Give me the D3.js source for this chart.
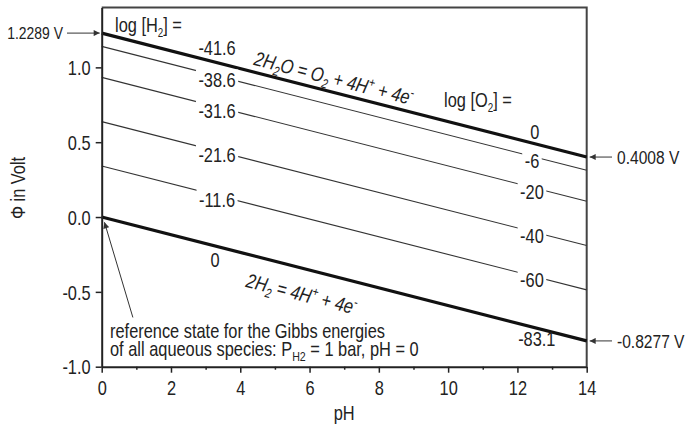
<!DOCTYPE html>
<html>
<head>
<meta charset="utf-8">
<script src="https://cdn.jsdelivr.net/npm/d3@7"></script>
<style>
  body { margin: 0; background: #fff; }
  svg { display: block; font-family: "Liberation Sans Narrow", "Liberation Sans", Arial, sans-serif; }
</style>
</head>
<body>
<svg id="chart" width="689" height="426"></svg>
<script>
// Stability field of water: electrode potential vs pH at 25 °C
const pHRange = [0, 14];
const logO2 = [0, -6, -20, -40, -60, -83.1];
const logH2Labels = ["-41.6", "-38.6", "-31.6", "-21.6", "-11.6", "0"];
const phiAtPH0 = [1.2289, 1.1402, 0.9331, 0.6373, 0.3415, 0.0];
const phiAtPH14 = [0.4008, 0.3121, 0.1050, -0.1908, -0.4866, -0.8277];
const xTicks = [0, 2, 4, 6, 8, 10, 12, 14];
const xMinorTicks = [1, 3, 5, 7, 9, 11, 13];
const yTicks = [-1.0, -0.5, 0.0, 0.5, 1.0];
const yDomain = [-1.0, 1.4];

const svg = d3.select("#chart");
const box = { left: 101.7, top: 7.5, right: 586.7, bottom: 366.7 };
const x = d3.scaleLinear().domain(pHRange).range([box.left, box.right]);
const y = d3.scaleLinear().domain(yDomain).range([box.bottom, box.top]);
const ink = "#222";
const FS = 20;
const SX = 0.82;            // condensed lettering
const hy = s => String(s).replace(/\u2212/g, "-");

// potential on line i at a given pH (straight line between its end points)
const phiAt = (i, p) => phiAtPH0[i] + (phiAtPH14[i] - phiAtPH0[i]) * (p - pHRange[0]) / (pHRange[1] - pHRange[0]);
const slopeDeg = i => Math.atan2(y(phiAtPH14[i]) - y(phiAtPH0[i]), x(pHRange[1]) - x(pHRange[0])) * 180 / Math.PI;

// condensed text placed at (px, py), optionally rotated
function ctext(px, py, anchor, rot, style, size) {
  const g = svg.append("g")
    .attr("transform", `translate(${px},${py})${rot ? ` rotate(${rot})` : ""} scale(${SX},1)`);
  const t = g.append("text").attr("x", 0).attr("y", 0)
    .attr("text-anchor", anchor || "start").attr("font-size", size || FS).attr("fill", ink);
  if (style) t.attr("font-style", style);
  return t;
}
function rich(sel, parts, small) {
  parts.forEach(pt => {
    const ts = sel.append("tspan").text(pt.t);
    if (pt.sub) ts.attr("font-size", small).attr("dy", 5);
    if (pt.sup) ts.attr("font-size", small).attr("dy", -8);
    if (pt.back) ts.attr("dy", pt.back);
  });
  return sel;
}

// arrow head marker
svg.append("defs").append("marker")
  .attr("id", "head").attr("viewBox", "0 0 10 10")
  .attr("refX", 10).attr("refY", 5)
  .attr("markerWidth", 8).attr("markerHeight", 6)
  .attr("markerUnits", "userSpaceOnUse")
  .attr("orient", "auto")
  .append("path").attr("d", "M0,0 L10,5 L0,10 Z").attr("fill", "#333");

// frame (top and right)
svg.append("path")
  .attr("d", `M${box.left},${box.top} H${box.right} V${box.bottom}`)
  .attr("fill", "none").attr("stroke", "#444").attr("stroke-width", 2);

// lines of constant gas activity
const last = logO2.length - 1;
const line = d3.line().x(d => x(d[0])).y(d => y(d[1]));
svg.append("g").selectAll("path")
  .data(logO2.map((v, i) => i))
  .join("path")
  .attr("d", i => line([[pHRange[0], phiAtPH0[i]], [pHRange[1], phiAtPH14[i]]]))
  .attr("fill", "none")
  .attr("stroke", i => (i === 0 || i === last) ? "#111" : "#333")
  .attr("stroke-width", i => (i === 0 || i === last) ? 3.2 : 1.1);

// axes
const xAxis = svg.append("g").attr("transform", `translate(0,${box.bottom})`)
  .call(d3.axisBottom(x).tickValues(xTicks).tickFormat(d => hy(d3.format("d")(d)))
    .tickSizeInner(6).tickSizeOuter(0).tickPadding(4));
svg.append("g").attr("transform", `translate(0,${box.bottom})`)
  .call(d3.axisBottom(x).tickValues(xMinorTicks).tickFormat("").tickSizeInner(3).tickSizeOuter(0))
  .call(g => g.select(".domain").remove());
const yAxis = svg.append("g").attr("transform", `translate(${box.left},0)`)
  .call(d3.axisLeft(y).tickValues(yTicks).tickFormat(d => hy(d3.format(".1f")(d)))
    .tickSizeInner(6).tickSizeOuter(0).tickPadding(5));
svg.selectAll("g[font-family]").attr("font-family", null);
svg.selectAll(".domain").attr("stroke", ink).attr("stroke-width", 2);
svg.selectAll(".tick line").attr("stroke", ink).attr("stroke-width", 1.5);
svg.selectAll(".tick text").attr("font-size", FS).attr("fill", ink);
yAxis.selectAll(".tick text").attr("dy", "0.36em").attr("x", -13.5).attr("transform", `scale(${SX},1)`);
xAxis.selectAll(".tick text").attr("dy", "0.9em").attr("transform", `scale(${SX},1)`);

// axis titles
ctext(x(7), 420, "middle").text("pH");
ctext(25, 188, "middle", -90).text("Φ in Volt");

// line labels: log[H2] on the left, log[O2] on the right
function label(txt, p, i, dy, masked) {
  const t = ctext(x(p), y(phiAt(i, p)) + dy + 7.2, "middle").text(txt);
  if (masked) {
    const b = t.node().getBBox();
    d3.select(t.node().parentNode).insert("rect", "text")
      .attr("x", b.x - 3).attr("y", b.y + 1).attr("width", b.width + 6).attr("height", b.height - 2)
      .attr("fill", "#fff");
  }
}
for (let i = 1; i < last; i++) {
  label(logH2Labels[i], 3.33, i, 4, true);
  label(String(logO2[i]), 12.42, i, 4, true);
}
label(logH2Labels[0], 3.33, 0, -15, false);
label(String(logO2[0]), 12.5, 0, -12, false);
label(logH2Labels[last], 3.27, last, 14, false);
label(String(logO2[last]), 12.56, last, 11, false);

// headers for the two label columns
rich(ctext(115, 32), [{ t: "log [H" }, { t: "2", sub: true }, { t: "] =", back: -5 }], 12);
rich(ctext(444, 107), [{ t: "log [O" }, { t: "2", sub: true }, { t: "] =", back: -5 }], 12);

// reaction equations along the boundary lines
const eq1Ph = 4.37, eq2Ph = 4.14;
rich(ctext(x(eq1Ph), y(phiAt(0, eq1Ph)) - 7, "start", slopeDeg(0), "italic"),
  [{ t: "2H" }, { t: "2", sub: true }, { t: "O = O", back: -5 }, { t: "2", sub: true },
   { t: " + 4H", back: -5 }, { t: "+", sup: true }, { t: " + 4e", back: 8 }, { t: "-", sup: true }], 13);
rich(ctext(x(eq2Ph), y(phiAt(last, eq2Ph)) + 33, "start", slopeDeg(last), "italic"),
  [{ t: "2H" }, { t: "2", sub: true }, { t: " = 4H", back: -5 }, { t: "+", sup: true },
   { t: " + 4e", back: 8 }, { t: "-", sup: true }], 13);

// boundary potentials at pH 0 and pH 14
const callouts = [
  { v: phiAtPH0[0], side: "left", size: 17 },
  { v: phiAtPH14[0], side: "right", size: 19 },
  { v: phiAtPH14[last], side: "right", size: 19 }
];
callouts.forEach(c => {
  const cy = y(c.v);
  const text = hy(d3.format(".4f")(c.v) + " V");
  if (c.side === "left") {
    svg.append("line").attr("x1", 67).attr("x2", box.left - 2).attr("y1", cy).attr("y2", cy)
      .attr("stroke", "#333").attr("stroke-width", 1).attr("marker-end", "url(#head)");
    ctext(63, cy + 6.2, "end", 0, null, c.size).text(text);
  } else {
    svg.append("line").attr("x1", 612).attr("x2", box.right + 3).attr("y1", cy).attr("y2", cy)
      .attr("stroke", "#333").attr("stroke-width", 1).attr("marker-end", "url(#head)");
    ctext(617, cy + 6.8, "start", 0, null, c.size).text(text);
  }
});

// reference state note
svg.append("line")
  .attr("x1", x(0.9)).attr("y1", y(-0.671)).attr("x2", x(0.08)).attr("y2", y(-0.035))
  .attr("stroke", "#333").attr("stroke-width", 1).attr("marker-end", "url(#head)");
ctext(x(0.24), 338).text("reference state for the Gibbs energies");
rich(ctext(x(0.24), 356),
  [{ t: "of all aqueous species: P" }, { t: "H2", sub: true }, { t: " = 1 bar, pH = 0", back: -5 }], 13);
</script>
</body>
</html>
